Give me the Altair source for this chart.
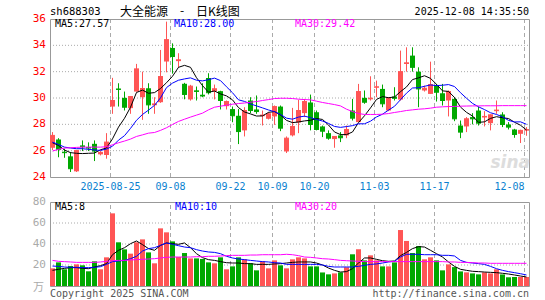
import altair as alt
import pandas as pd

# ---------------- data ----------------
opens = [26.22, 26.85, 25.92, 25.57, 24.43, 26.40, 26.27, 26.52, 25.72, 25.67,
         29.35, 30.72, 30.01, 29.23, 30.49, 30.06, 30.74, 29.45, 29.68, 32.77,
         33.80, 32.80, 31.08, 29.89, 30.58, 30.25, 31.52, 30.52, 30.52, 29.38,
         29.16, 28.65, 27.54, 29.81, 29.13, 28.62, 28.42, 28.60, 29.35, 25.94,
         27.16, 28.14, 28.85, 29.66, 28.92, 27.84, 27.33, 26.88, 27.16, 27.16,
         29.05, 28.17, 30.01, 29.90, 30.78, 30.69, 29.05, 30.11, 29.88, 32.58,
         33.22, 32.00, 30.57, 30.31, 30.94, 30.36, 29.81, 29.93, 27.91, 27.84,
         28.55, 29.05, 28.52, 28.09, 29.00, 28.75, 27.99, 27.61, 27.28, 27.52]
highs = [27.41, 26.95, 26.15, 25.90, 26.05, 26.78, 26.63, 26.78, 25.97, 27.33,
         31.53, 31.12, 30.49, 30.15, 32.59, 32.00, 31.12, 30.06, 33.65, 35.80,
         34.15, 33.40, 31.15, 31.00, 30.87, 31.12, 31.88, 31.02, 30.55, 29.81,
         29.35, 29.16, 29.30, 30.06, 30.19, 29.05, 28.92, 29.43, 29.43, 27.08,
         29.25, 29.86, 29.93, 30.26, 29.05, 27.91, 27.54, 27.10, 27.41, 27.91,
         29.93, 31.07, 30.57, 31.65, 31.32, 31.02, 30.06, 30.82, 33.60, 33.85,
         33.85, 32.33, 30.94, 32.76, 31.07, 31.07, 30.57, 30.06, 28.29, 28.55,
         28.85, 29.35, 29.00, 28.75, 29.81, 28.92, 28.17, 27.66, 27.59, 27.79]
lows = [26.05, 25.50, 25.46, 24.38, 24.38, 25.97, 25.97, 25.21, 25.64, 25.39,
        28.80, 29.35, 29.05, 28.80, 30.49, 28.34, 28.80, 28.80, 29.63, 31.95,
        31.85, 32.30, 29.90, 29.80, 29.81, 30.06, 30.27, 29.89, 29.13, 29.13,
        28.16, 26.50, 27.08, 28.85, 28.80, 27.91, 28.37, 27.96, 27.48, 25.82,
        27.08, 27.33, 28.55, 27.54, 27.54, 27.03, 26.83, 26.22, 26.65, 26.95,
        28.29, 28.17, 29.56, 29.81, 30.06, 29.30, 29.00, 29.81, 29.81, 32.00,
        32.00, 29.30, 30.49, 30.31, 29.73, 29.43, 28.60, 28.24, 26.95, 27.41,
        28.00, 27.91, 27.84, 27.54, 28.80, 27.79, 27.61, 26.98, 26.58, 27.13]
closes = [27.16, 26.10, 25.85, 24.63, 26.02, 26.30, 26.20, 25.97, 25.87, 26.65,
          29.81, 30.65, 29.30, 30.11, 32.21, 30.72, 29.48, 29.55, 31.63, 34.43,
          33.15, 32.90, 30.27, 30.90, 30.50, 30.15, 30.40, 30.70, 29.81, 29.73,
          28.65, 27.45, 29.05, 29.05, 28.97, 28.70, 28.80, 29.35, 27.71, 26.95,
          27.84, 29.05, 29.73, 27.99, 27.61, 27.48, 26.95, 27.08, 26.98, 27.61,
          28.47, 30.49, 29.68, 29.98, 30.85, 29.56, 30.01, 29.98, 32.00, 32.67,
          32.33, 30.69, 30.74, 31.02, 30.44, 29.81, 30.49, 28.42, 27.41, 28.42,
          28.42, 28.09, 28.60, 28.72, 29.08, 27.99, 27.79, 27.23, 27.54, 27.60]
ma5 = [26.60, 26.40, 26.05, 25.85, 25.80, 25.78, 25.80, 25.82, 26.07, 26.20,
       26.90, 27.79, 28.46, 29.30, 30.42, 30.60, 30.36, 30.41, 30.72, 31.16,
       31.65, 32.33, 32.48, 32.33, 31.54, 30.94, 30.44, 30.53, 30.31, 30.16,
       29.86, 29.27, 28.94, 28.79, 28.63, 28.64, 28.91, 28.97, 28.71, 28.30,
       28.13, 28.18, 28.26, 28.31, 28.44, 28.37, 27.95, 27.42, 27.22, 27.22,
       27.42, 28.13, 28.65, 29.25, 29.89, 30.11, 30.02, 30.08, 30.48, 30.84,
       31.40, 31.53, 31.69, 31.49, 31.04, 30.54, 30.50, 30.04, 29.31, 28.91,
       28.63, 28.15, 28.19, 28.45, 28.58, 28.50, 28.44, 28.16, 27.93, 27.57]
ma10 = [26.65, 26.47, 26.27, 26.20, 26.15, 26.15, 26.10, 26.05, 26.02, 26.12,
        26.34, 26.80, 27.14, 27.69, 28.31, 28.75, 29.08, 29.44, 30.01, 30.79,
        31.13, 31.35, 31.45, 31.53, 31.35, 31.30, 31.39, 31.51, 31.32, 30.85,
        30.40, 29.86, 29.74, 29.55, 29.40, 29.25, 29.09, 28.96, 28.75, 28.47,
        28.39, 28.55, 28.62, 28.51, 28.37, 28.25, 28.07, 27.84, 27.77, 27.83,
        27.90, 28.04, 28.04, 28.24, 28.56, 28.77, 29.08, 29.37, 29.87, 30.37,
        30.76, 30.78, 30.89, 30.99, 30.94, 30.97, 31.02, 30.87, 30.40, 29.98,
        29.59, 29.33, 29.12, 28.88, 28.75, 28.57, 28.30, 28.18, 28.19, 28.00]
ma30 = [25.97, 26.10, 26.20, 26.22, 26.25, 26.27, 26.27, 26.27, 26.27, 26.30,
        26.45, 26.60, 26.73, 26.88, 27.08, 27.20, 27.33, 27.38, 27.54, 27.74,
        27.99, 28.22, 28.39, 28.55, 28.70, 28.85, 29.10, 29.30, 29.38, 29.45,
        29.53, 29.58, 29.62, 29.68, 29.73, 29.81, 29.88, 29.96, 29.98, 29.98,
        29.96, 29.91, 29.88, 29.86, 29.76, 29.66, 29.58, 29.50, 29.40, 29.15,
        28.97, 28.82, 28.75, 28.75, 28.75, 28.77, 28.82, 28.90, 28.97, 29.05,
        29.10, 29.15, 29.18, 29.23, 29.30, 29.33, 29.35, 29.36, 29.38, 29.39,
        29.40, 29.40, 29.41, 29.41, 29.41, 29.42, 29.42, 29.42, 29.42, 29.42]
vols = [16.8, 22.5, 15.9, 19.0, 20.6, 19.7, 14.0, 23.5, 15.9, 27.3,
        69.2, 41.6, 34.9, 30.8, 41.6, 44.4, 32.0, 21.6, 54.9, 51.1,
        42.5, 27.6, 31.4, 26.3, 26.3, 25.7, 22.5, 21.6, 27.3, 15.9,
        18.7, 27.3, 25.4, 21.6, 14.9, 23.5, 16.8, 24.4, 19.7, 16.8,
        25.4, 27.3, 26.3, 18.7, 18.7, 12.9, 11.1, 12.0, 13.0, 17.8,
        30.2, 35.0, 24.4, 29.2, 24.4, 18.7, 18.7, 22.5, 53.3, 42.9,
        31.4, 38.0, 25.4, 27.3, 24.4, 14.9, 20.6, 18.0, 13.9, 13.0,
        12.0, 11.1, 13.0, 12.0, 15.9, 11.0, 8.3, 8.6, 8.6, 8.6]
vma5 = [14.9, 15.9, 16.8, 17.5, 17.5, 16.8, 16.5, 18.1, 19.4, 21.3,
        29.8, 34.0, 36.5, 40.3, 42.9, 39.4, 35.6, 34.0, 38.7, 41.0,
        40.3, 39.7, 41.0, 36.5, 30.8, 27.0, 25.1, 24.4, 23.2, 22.2,
        21.9, 21.9, 21.3, 21.3, 20.6, 20.6, 20.6, 21.0, 21.3, 21.9,
        22.5, 22.9, 22.9, 22.9, 21.9, 20.0, 17.1, 14.9, 13.3, 13.7,
        16.5, 21.9, 26.7, 26.7, 25.4, 24.1, 23.5, 23.8, 28.9, 32.0,
        35.6, 37.5, 37.1, 34.0, 30.8, 27.6, 22.9, 18.7, 15.9, 14.9,
        14.0, 13.7, 13.3, 13.0, 12.7, 12.1, 11.4, 10.5, 9.5, 8.6]
vma10 = [19.0, 18.7, 18.1, 17.8, 17.8, 17.5, 17.5, 17.8, 18.4, 20.6,
         23.2, 23.8, 24.4, 26.0, 28.3, 33.3, 35.6, 36.5, 38.7, 41.0,
         39.7, 38.4, 37.1, 36.5, 34.6, 33.3, 32.4, 32.0, 30.8, 28.3,
         26.7, 25.7, 25.1, 24.4, 23.8, 23.2, 22.9, 22.2, 21.9, 20.6,
         20.6, 20.6, 20.6, 20.6, 20.6, 20.0, 18.7, 18.1, 18.1, 18.1,
         18.1, 18.7, 19.7, 20.6, 21.0, 21.9, 22.9, 23.5, 27.6, 30.2,
         30.2, 30.2, 29.8, 29.8, 29.8, 29.2, 29.2, 28.6, 24.4, 22.5,
         21.9, 21.3, 20.6, 18.7, 16.5, 14.9, 13.7, 12.7, 11.7, 10.5]
vma30 = [24.4, 23.5, 23.2, 22.9, 22.5, 22.5, 22.5, 22.5, 22.9, 23.5,
         24.1, 24.4, 24.4, 24.8, 25.1, 25.4, 25.7, 26.0, 26.7, 27.3,
         27.6, 27.6, 27.6, 27.6, 27.9, 27.9, 28.3, 28.3, 28.6, 28.9,
         29.2, 29.2, 29.2, 29.5, 29.5, 29.8, 29.8, 29.8, 29.8, 30.2,
         29.8, 28.9, 27.6, 27.3, 26.7, 26.0, 25.7, 25.1, 24.4, 24.1,
         23.8, 23.5, 23.2, 23.2, 23.2, 23.2, 23.2, 23.2, 23.2, 23.2,
         23.2, 23.2, 23.2, 23.2, 23.2, 23.2, 22.9, 22.9, 22.5, 22.5,
         22.2, 21.9, 21.9, 21.6, 21.6, 21.6, 21.6, 21.6, 21.6, 21.6]

grid_idx = [10, 20, 30, 37, 44, 54, 64, 79]
date_labels = ["2025-08-25", "09-08", "09-22", "10-09", "10-20", "11-03", "11-17", "12-08"]
price_ticks = [24, 26, 28, 30, 32, 34, 36]
price_grid = [26, 28, 30, 32, 34]
vol_ticks = [20, 40, 60, 80]
vol_grid = [20, 40, 60]

# ---------------- styling ----------------
RED = "#ff5555"
GREEN = "#00a800"
BLUE_TXT = "#0a7fd0"
GRID = "#aaaaaa"
MONO = "DejaVu Sans Mono"
CJK = "Noto Sans CJK SC"

n = len(closes)
df = pd.DataFrame({"i": list(range(n)), "open": opens, "high": highs, "low": lows,
                   "close": closes, "vol": vols, "ma5": ma5, "ma10": ma10, "ma30": ma30,
                   "vma5": vma5, "vma10": vma10, "vma30": vma30})
df["col"] = [RED if c >= o else GREEN for o, c in zip(opens, closes)]
df["xl"] = df["i"] - 5 / 12
df["xr"] = df["i"] + 5 / 12
df["zero"] = 0

xs = alt.Scale(domain=[0, 79], range=[52.5, 526.5], nice=False, zero=False)
PY = alt.Scale(domain=[24, 36], range=[177, 19], nice=False, zero=False)
VY = alt.Scale(domain=[0, 80], range=[286, 202], nice=False, zero=False)


def X(f):
    return alt.X(f, type="quantitative", scale=xs, axis=None)


def Yp(f):
    return alt.Y(f, type="quantitative", scale=PY, axis=None)


def Yv(f):
    return alt.Y(f, type="quantitative", scale=VY, axis=None)


base = alt.Chart(df)
colr = alt.Color("col:N", scale=None)

layers = []

# grid: horizontal dotted
pg = pd.DataFrame({"v": price_grid, "a": -5 / 12, "b": 79 + 5 / 12})
layers.append(alt.Chart(pg).mark_rule(color=GRID, strokeWidth=1, strokeDash=[1, 2]).encode(
    x=X("a"), x2="b", y=Yp("v")))
vg = pd.DataFrame({"v": vol_grid, "a": -5 / 12, "b": 79 + 5 / 12})
layers.append(alt.Chart(vg).mark_rule(color=GRID, strokeWidth=1, strokeDash=[1, 2]).encode(
    x=X("a"), x2="b", y=Yv("v")))

# grid: vertical dashed
gd = pd.DataFrame({"g": grid_idx, "lab": date_labels})
gd["gx"] = gd["g"] - 5 / 12 + 1 / 12
gd["plo"] = 24
gd["phi"] = 36
gd["vlo"] = 0
gd["vhi"] = 80
layers.append(alt.Chart(gd).mark_rule(color=GRID, strokeWidth=1, strokeDash=[4, 3]).encode(
    x=X("gx"), y=Yp("plo"), y2="phi"))
layers.append(alt.Chart(gd).mark_rule(color=GRID, strokeWidth=1, strokeDash=[4, 3]).encode(
    x=X("gx"), y=Yv("vlo"), y2="vhi"))

# frames
fr = pd.DataFrame({"a": [-1 / 3], "b": [79.5], "plo": [24 - 0.5 * 12 / 158], "phi": [36 - 0.5 * 12 / 158],
                   "vlo": [-0.5 * 80 / 84], "vhi": [80 - 0.5 * 80 / 84]})
layers.append(alt.Chart(fr).mark_rect(fill="transparent", stroke="#999999", strokeWidth=1).encode(
    x=X("a"), x2="b", y=Yp("plo"), y2="phi"))
layers.append(alt.Chart(fr).mark_rect(fill="transparent", stroke="#999999", strokeWidth=1).encode(
    x=X("a"), x2="b", y=Yv("vlo"), y2="vhi"))

# candles
layers.append(base.mark_rule(strokeWidth=1).encode(x=X("i"), y=Yp("low"), y2="high", color=colr))
layers.append(base.mark_rect().encode(x=X("xl"), x2="xr", y=Yp("open"), y2="close", color=colr))
layers.append(base.mark_rule(strokeWidth=1).encode(x=X("xl"), x2="xr", y=Yp("close"), color=colr))

# price MAs
layers.append(base.mark_line(color="black", strokeWidth=1).encode(x=X("i"), y=Yp("ma5")))
layers.append(base.mark_line(color="#0000ff", strokeWidth=1).encode(x=X("i"), y=Yp("ma10")))
layers.append(base.mark_line(color="#ff00ff", strokeWidth=1).encode(x=X("i"), y=Yp("ma30")))

# volume bars + MAs
layers.append(base.mark_rect().encode(x=X("xl"), x2="xr", y=Yv("vol"), y2="zero", color=colr))
layers.append(base.mark_line(color="black", strokeWidth=1).encode(x=X("i"), y=Yv("vma5")))
layers.append(base.mark_line(color="#0000ff", strokeWidth=1).encode(x=X("i"), y=Yv("vma10")))
layers.append(base.mark_line(color="#ff00ff", strokeWidth=1).encode(x=X("i"), y=Yv("vma30")))

# axis labels
pt = pd.DataFrame({"v": price_ticks, "t": [str(v) for v in price_ticks]})
layers.append(alt.Chart(pt).mark_text(align="right", baseline="middle", x=46, color="#ff0000",
                                      font=MONO, fontSize=11).encode(y=Yp("v"), text="t:N"))
vt = pd.DataFrame({"v": vol_ticks, "t": [str(v) for v in vol_ticks]})
layers.append(alt.Chart(vt).mark_text(align="right", baseline="middle", x=46, color="#aaaaaa",
                                      font=MONO, fontSize=11).encode(y=Yv("v"), text="t:N"))
layers.append(alt.Chart(gd.iloc[:-1]).mark_text(align="center", baseline="alphabetic", y=190,
                                                color=BLUE_TXT, font=MONO, fontSize=10).encode(
    x=X("gx"), text="lab:N"))
layers.append(alt.Chart(gd.iloc[-1:]).mark_text(align="right", baseline="alphabetic", y=190,
                                                color=BLUE_TXT, font=MONO, fontSize=10).encode(
    x=X("gx"), text="lab:N"))


def label(t, x, y, color="black", size=10, font=MONO, align="left", **kw):
    return alt.Chart(pd.DataFrame({"t": [t]})).mark_text(
        x=x, y=y, align=align, baseline="alphabetic", color=color, fontSize=size, font=font, **kw
    ).encode(text="t:N")


layers += [
    label("sh688303", 50, 15, size=10.5),
    label("大全能源", 120, 15.5, size=12, font=CJK),
    label("-", 182, 15, size=12, font=CJK, align="center"),
    label("日K线图", 196, 15.5, size=12, font=CJK),
    label("2025-12-08 14:35:50", 529, 15, align="right"),
    label("MA5:27.57", 55, 27),
    label("MA10:28.00", 174, 27, color="#0000ff"),
    label("MA30:29.42", 295, 27, color="#ff00ff"),
    label("MA5:8", 55, 210),
    label("MA10:10", 175, 210, color="#0000ff"),
    label("MA30:20", 295, 210, color="#ff00ff"),
    label("万", 44, 291, color="#aaaaaa", size=11, font=CJK, align="right"),
    label("Copyright 2025 SINA.COM", 50, 297, color="#555555"),
    label("http://finance.sina.com.cn", 529, 297, color="#555555", align="right"),
    label("sina", 530, 168, color="#dddddd", size=17, font="DejaVu Sans", align="right",
          fontStyle="italic", fontWeight="bold"),
]

chart = alt.layer(*layers).resolve_scale(y="independent").properties(
    width=545, height=300, padding=0, autosize=alt.AutoSizeParams(type="none"),
    background="white",
).configure_view(strokeWidth=0)

chart.save("out.html", embed_options={"renderer": "svg", "actions": False})
